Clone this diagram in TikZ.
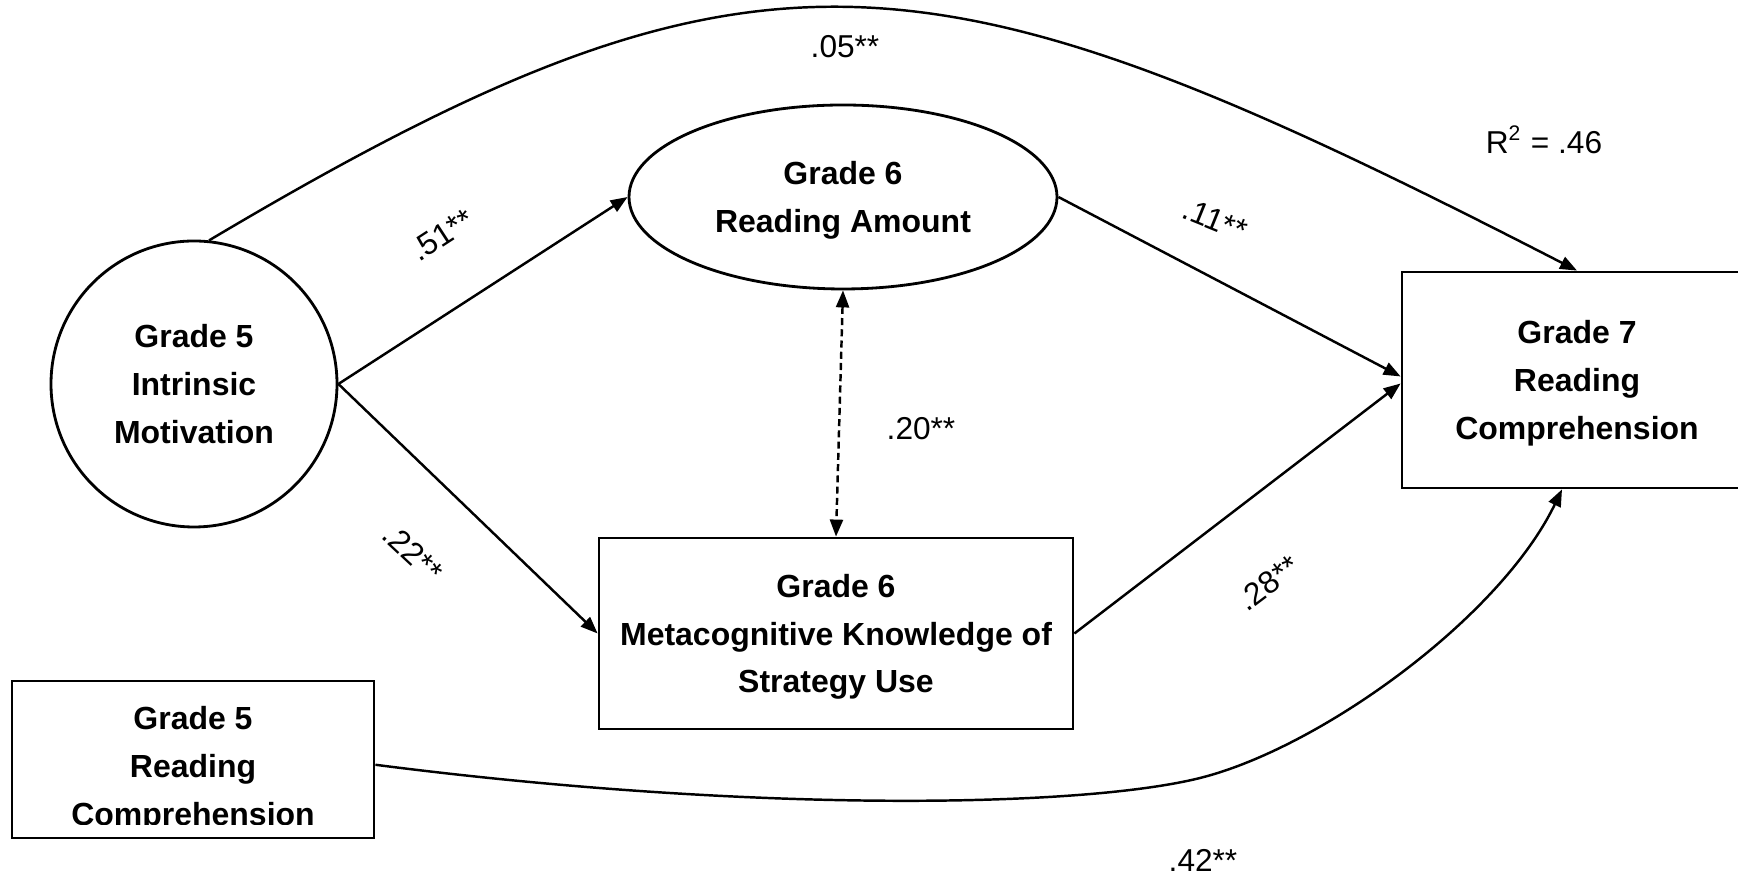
\documentclass[tikz,border=0pt]{standalone}
\usepackage{fontspec}
\setmainfont{Liberation Sans}
\usetikzlibrary{shapes.geometric,arrows.meta}
\newcommand{\semfont}{\fontsize{9.1}{13.6}\selectfont\bfseries}
\tikzstyle{lv}=[circle,draw=black,line width=0.8pt,inner sep=0pt,
  minimum size=2.86cm,align=center,font=\semfont]
\tikzstyle{ev}=[ellipse,draw=black,line width=0.8pt,inner sep=0pt,text depth=0pt,
  minimum width=4.28cm,minimum height=1.84cm,align=center,font=\semfont]
\tikzstyle{ob}=[rectangle,draw=black,line width=0.8pt,inner sep=0pt,text depth=0pt,
  align=center,font=\semfont]
\tikzstyle{cf}=[inner sep=0pt,font=\fontsize{9}{11}\selectfont]
\tikzstyle{arr}=[line width=0.7pt,-{Triangle[length=1.7mm,width=1.3mm]}]
\tikzstyle{dsh}=[line width=0.7pt,dash pattern=on 2pt off 1.2pt,
  {Triangle[length=1.7mm,width=1.3mm]}-{Triangle[length=1.7mm,width=1.3mm]}]

\begin{document}
\begin{tikzpicture}
    \useasboundingbox (0,0) rectangle (17.38,8.78);
    % constructs
    \node [style=lv] (im5) at (1.94,4.94) {Grade 5\\Intrinsic\\Motivation};
    \node [style=ev] (amount) at (8.43,6.81) {Grade 6\\Reading Amount};
    \node [style=ob,minimum width=4.74cm,minimum height=1.91cm] (meta) at (8.36,2.445)
      {Grade 6\\Metacognitive Knowledge of\\Strategy Use};
    \node [style=ob,minimum width=3.50cm,minimum height=2.16cm] (rc7) at (15.77,4.98)
      {Grade 7\\Reading\\Comprehension};
    \node [style=ob,minimum width=3.62cm,minimum height=1.57cm] (rc5) at (1.93,1.185) {};
    \begin{scope}
      \clip (0.12,0.53) rectangle (3.74,1.97);
      \node [font=\semfont,align=center,inner sep=0pt] (rc5t) at (1.93,1.09)
        {Grade 5\\Reading\\Comprehension};
    \end{scope}
    % paths
    \draw [style=arr] (im5.east) to (amount.west);
    \draw [style=arr] (im5.east) to (meta.west);
    \draw [style=arr] (amount.east) to ([yshift=1pt]rc7.west);
    \draw [style=arr] (meta.east) to ([yshift=-1pt]rc7.west);
    \draw [style=dsh] (amount.south) to (meta.north);
    \draw [style=arr] (im5.84) .. controls (7.6,9.65) and (9.3,9.4) .. (rc7.north);
    \draw [style=arr] ([yshift=-1.5pt]rc5.east) .. controls (7.5,0.65) and (10.8,0.7) .. (12.0,1.0)
      .. controls (13.2,1.3) and (15.0,2.6) .. ([xshift=-0.15cm]rc7.south);
    % coefficients
    \node [style=cf] (c05) at (8.45,8.31) {.05**};
    \node [style=cf] (r2) at (15.44,7.38) {R\textsuperscript{2} = .46};
    \node [style=cf,rotate=33] (c51) at (4.42,6.43) {.51**};
    \node [style=cf,rotate=-22] (c11) at (12.15,6.58) {.11**};
    \node [style=cf] (c20) at (9.21,4.49) {.20**};
    \node [style=cf,rotate=-43] (c22) at (4.13,3.25) {.22**};
    \node [style=cf,rotate=37] (c28) at (12.68,2.95) {.28**};
    \node [style=cf] (c42) at (12.03,0.18) {.42**};
\end{tikzpicture}
\end{document}
